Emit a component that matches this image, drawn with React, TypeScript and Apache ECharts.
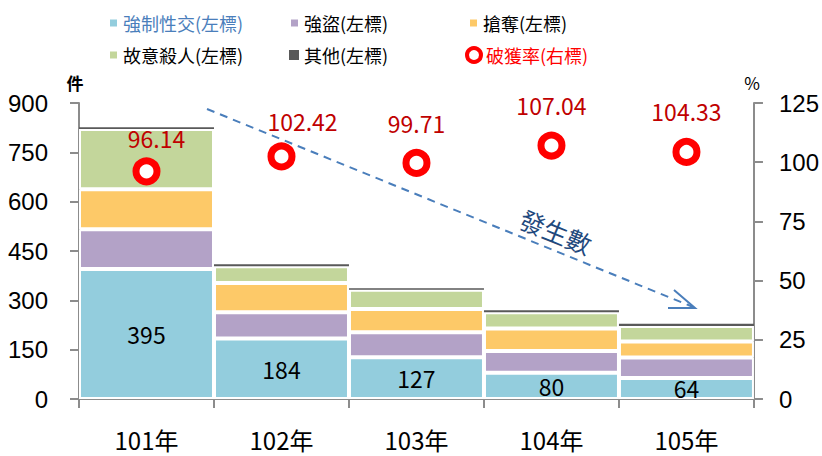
import React, { useEffect, useRef } from "react";
import * as echarts from "echarts";

const categories = ["101年", "102年", "103年", "104年", "105年"];
const rape = [395, 184, 127, 80, 64];
const robbery = [121, 80, 76, 66, 62];
const snatch = [122, 89, 71, 68, 49];
const homicide = [183, 51, 58, 50, 47];
const others = [5, 6, 5, 6, 7];
const clearRate = [96.14, 102.42, 99.71, 107.04, 104.33];
const leftTicks = { min: 0, max: 900, interval: 150 };
const rightTicks = { min: 0, max: 125, interval: 25 };

const rateLabelOffsets = [[10, 0], [21, -2], [0, -6], [0, -7], [0, -7]];

const CJK = '"Noto Sans CJK TC", "Noto Sans", sans-serif';
const NARROW = '"Liberation Sans Narrow", "Liberation Sans", Arial, sans-serif';

const colors = {
  rape: "#93CDDD",
  robbery: "#B3A2C7",
  snatch: "#FDC968",
  homicide: "#C3D69B",
  others: "#595959",
  rate: "#FF0000",
};

export default function App() {
  const ref = useRef<HTMLDivElement>(null);
  useEffect(() => {
    if (!ref.current) return;
    const chart = echarts.init(ref.current, undefined, { renderer: "svg" });
    const axisGray = "#8C8C8C";
    const barBase = (name: string, data: number[], color: string, extra: any = {}) => ({
      name,
      type: "bar",
      stack: "total",
      data,
      barCategoryGap: "0%",
      itemStyle: { color, borderColor: "#fff", borderWidth: 2 },
      ...extra,
    });
    const legendItem = (name: string, left: number, top: number, color: string, icon: any = "rect", size = 9, itemStyle: any = undefined) => ({
      data: [{ name, textStyle: { color }, ...(itemStyle ? { itemStyle } : {}) }],
      left,
      top,
      ...(icon ? { icon } : {}),
      itemWidth: size,
      itemHeight: size,
      padding: 0,
      selectedMode: false,
      textStyle: { fontSize: 18, fontFamily: CJK, color },
    });
    chart.setOption({
      animation: false,
      textStyle: { fontFamily: CJK },
      grid: { left: 79, right: 60, top: 103, bottom: 57 },
      legend: [
        legendItem("強制性交(左標)", 108, 14, "#4A7EBB"),
        legendItem("強盜(左標)", 289, 14, "#000"),
        legendItem("搶奪(左標)", 468, 14, "#000"),
        legendItem("故意殺人(左標)", 108, 46, "#000"),
        legendItem("其他(左標)", 289, 46, "#000", "rect", 10),
        legendItem("破獲率(右標)", 465, 46, "#FF0000", "circle", 14, {
          color: "#fff",
          borderColor: "#FF0000",
          borderWidth: 4,
        }),
      ],
      xAxis: {
        type: "category",
        data: categories,
        boundaryGap: true,
        axisLine: { lineStyle: { color: axisGray, width: 2 } },
        axisTick: { show: true, length: 9, alignWithLabel: false, lineStyle: { color: axisGray, width: 2 } },
        axisLabel: { fontSize: 24, color: "#000", margin: 28, fontFamily: CJK },
      },
      yAxis: [
        {
          type: "value",
          ...leftTicks,
          name: "件",
          nameLocation: "end",
          nameGap: 12,
          nameTextStyle: { fontSize: 17, color: "#000", fontFamily: CJK, padding: [0, 8, 0, 0], fontWeight: "bold" },
          axisLine: { show: true, lineStyle: { color: axisGray, width: 2 } },
          axisTick: { show: true, length: 9, lineStyle: { color: axisGray, width: 2 } },
          axisLabel: { fontSize: 24, color: "#000", margin: 31, fontFamily: NARROW },
          splitLine: { show: false },
        },
        {
          type: "value",
          ...rightTicks,
          position: "right",
          name: "%",
          nameLocation: "end",
          nameGap: 12,
          nameTextStyle: { fontSize: 17, color: "#000", fontFamily: CJK, padding: [0, 4, 0, 0] },
          axisLine: { show: true, lineStyle: { color: axisGray, width: 2 } },
          axisTick: { show: true, length: 9, lineStyle: { color: axisGray, width: 2 } },
          axisLabel: { fontSize: 24, color: "#000", margin: 25, fontFamily: NARROW },
          splitLine: { show: false },
        },
      ],
      series: [
        barBase("強制性交(左標)", rape, colors.rape, {
          label: { show: true, position: "inside", fontSize: 23, color: "#000", fontFamily: CJK },
        }),
        barBase("強盜(左標)", robbery, colors.robbery),
        barBase("搶奪(左標)", snatch, colors.snatch),
        barBase("故意殺人(左標)", homicide, colors.homicide),
        barBase("其他(左標)", others, colors.others, {
          itemStyle: { color: colors.others, borderWidth: 0 },
        }),
        {
          name: "破獲率(右標)",
          type: "scatter",
          yAxisIndex: 1,
          symbol: "circle",
          symbolSize: 21,
          z: 5,
          itemStyle: { color: "#fff", borderColor: colors.rate, borderWidth: 7, opacity: 1 },
          data: clearRate.map((v, i) => ({
            value: v,
            label: { offset: rateLabelOffsets[i] },
          })),
          label: {
            show: true,
            position: "top",
            distance: 8,
            fontSize: 23,
            color: "#C00000",
            fontFamily: CJK,
            formatter: (p: any) => p.value.toFixed(2),
          },
        },
      ],
      graphic: [
        {
          type: "line",
          shape: { x1: 207, y1: 109, x2: 693, y2: 307 },
          style: { stroke: "#4A7EBB", lineWidth: 2, lineDash: [8, 6] },
          z: 10,
        },
        {
          type: "polyline",
          shape: { points: [[674, 290], [695, 308], [668, 308]] },
          style: { stroke: "#4A7EBB", lineWidth: 2, fill: "none" },
          z: 10,
        },
        {
          type: "text",
          x: 556,
          y: 231,
          rotation: -0.39,
          z: 10,
          style: {
            text: "發生數",
            fontSize: 25,
            fontFamily: CJK,
            fill: "#1F497D",
            textAlign: "center",
            textVerticalAlign: "middle",
          },
        },
      ],
    });
    return () => chart.dispose();
  }, []);
  return (
    <div
      ref={ref}
      style={{ position: "fixed", left: 0, top: 0, width: 822, height: 456, background: "#fff" }}
    />
  );
}
